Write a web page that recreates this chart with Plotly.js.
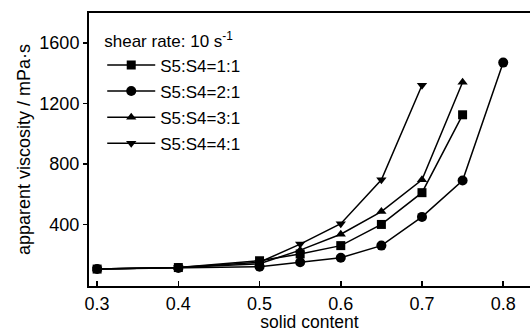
<!DOCTYPE html>
<html><head><meta charset="utf-8">
<script src="https://cdn.plot.ly/plotly-3.0.1.min.js"></script>
<style>html,body{margin:0;padding:0;background:#fff;overflow:hidden}#chart{width:530px;height:332px}</style>
</head><body><div id="chart"></div>
<script>
const solid11 = [0.3, 0.4, 0.5, 0.55, 0.6, 0.65, 0.7, 0.75];
const visc11 = [105, 115, 160, 205, 260, 400, 610, 1125];
const solid21 = [0.3, 0.4, 0.5, 0.55, 0.6, 0.65, 0.7, 0.75, 0.8];
const visc21 = [105, 112, 120, 150, 180, 260, 450, 690, 1470];
const solid31 = [0.3, 0.4, 0.5, 0.55, 0.6, 0.65, 0.7, 0.75];
const visc31 = [105, 115, 140, 230, 335, 485, 695, 1340];
const solid41 = [0.3, 0.4, 0.5, 0.55, 0.6, 0.65, 0.7];
const visc41 = [105, 115, 150, 270, 405, 695, 1320];
const names = ["S5:S4=1:1", "S5:S4=2:1", "S5:S4=3:1", "S5:S4=4:1"];
const xTicks = [0.3, 0.4, 0.5, 0.6, 0.7, 0.8];
const yTicks = [400, 800, 1200, 1600];

const FONT = '"Liberation Sans", Arial, sans-serif';
const symbols = ["square", "circle", "triangle-up", "triangle-down"];
const xs = [solid11, solid21, solid31, solid41];
const ys = [visc11, visc21, visc31, visc41];
const traces = xs.map((x, i) => ({
  x: x, y: ys[i], name: names[i], type: "scatter", mode: "lines+markers",
  legendgroup: "g" + i,
  line: {color: "#000", width: 1.5},
  marker: {symbol: symbols[i], size: symbols[i] === "circle" ? 10 : 9, color: "#000"}
}));

const layout = {
  width: 530, height: 332,
  margin: {l: 89, r: 0, t: 13, b: 46},
  paper_bgcolor: "#fff", plot_bgcolor: "#fff",
  font: {family: FONT, color: "#000", size: 17},
  showlegend: true,
  legend: {
    x: 0.03, y: 0.955, xanchor: "left", yanchor: "top",
    bgcolor: "rgba(0,0,0,0)", borderwidth: 0,
    font: {family: FONT, size: 17, color: "#000"},
    title: {text: "shear rate: 10 s<sup>-1</sup>", font: {family: FONT, size: 17, color: "#000"}},
    tracegroupgap: 1, itemwidth: 48
  },
  xaxis: {
    range: [0.29, 0.833], tickvals: xTicks, ticktext: xTicks.map(v => v.toFixed(1)),
    ticks: "inside", ticklen: 5, tickwidth: 1.5, tickcolor: "#000",
    showline: true, linewidth: 2, linecolor: "#000", mirror: true,
    showgrid: false, zeroline: false,
    tickfont: {family: FONT, size: 18},
    title: {text: "solid content", font: {family: FONT, size: 17.5}, standoff: 3}
  },
  yaxis: {
    range: [-7, 1798], tickvals: yTicks,
    ticks: "outside", ticklen: 4, tickwidth: 1.5, tickcolor: "#000",
    showline: true, linewidth: 2, linecolor: "#000",
    showgrid: false, zeroline: false,
    tickfont: {family: FONT, size: 18},
    title: {text: "apparent viscosity / mPa·s", font: {family: FONT, size: 18}, standoff: 4}
  }
};
Plotly.newPlot("chart", traces, layout, {staticPlot: true});
</script></body></html>
